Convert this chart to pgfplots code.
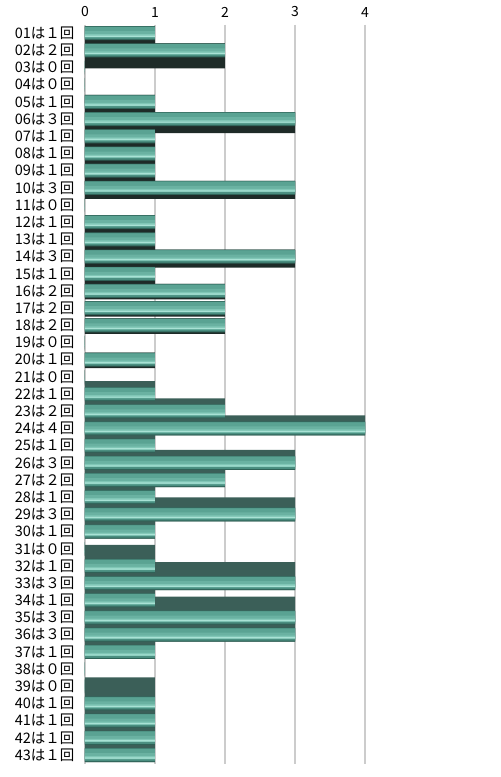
\documentclass[border=0pt]{standalone}
\usepackage{pgfplots}
\pgfplotsset{compat=1.18}
\usepackage{fontspec}
\setmainfont{Noto Sans CJK JP}
\definecolor{faceedge}{HTML}{2F6257}
\definecolor{faceinner}{HTML}{4A8E80}
\definecolor{facemid}{HTML}{5AA393}
\definecolor{facesoft}{HTML}{6AB2A2}
\definecolor{facelight}{HTML}{80C6B6}
\definecolor{faceshine}{HTML}{A9E2D5}
\definecolor{sidelow}{HTML}{1E2B28}
\definecolor{sidetop}{HTML}{3B5F58}
\definecolor{gridgray}{HTML}{CCCCCC}
\begin{document}
\begin{tikzpicture}
\pgfplotstableread{
n v
1 1
2 2
3 0
4 0
5 1
6 3
7 1
8 1
9 1
10 3
11 0
12 1
13 1
14 3
15 1
16 2
17 2
18 2
19 0
20 1
21 0
22 1
23 2
24 4
25 1
26 3
27 2
28 1
29 3
30 1
31 0
32 1
33 3
34 1
35 3
36 3
37 1
38 0
39 0
40 1
41 1
42 1
43 1
}\counts
\begin{axis}[
  at={(85pt,13.4pt)}, anchor=south west,
  scale only axis,
  width=413pt, height=739pt,
  xmin=0, xmax=5.9,
  ymin=0.5, ymax=43.5,
  y dir=reverse,
  axis line style={draw=none},
  xtick={0,1,2,3,4},
  xticklabel pos=right,
  xmajorgrids,
  grid style={gridgray, line width=1.2pt},
  major tick length=0pt,
  ytick={1,...,43},
  yticklabels={01は１回,02は２回,03は０回,04は０回,05は１回,06は３回,07は１回,08は１回,09は１回,10は３回,11は０回,12は１回,13は１回,14は３回,15は１回,16は２回,17は２回,18は２回,19は０回,20は１回,21は０回,22は１回,23は２回,24は４回,25は１回,26は３回,27は２回,28は１回,29は３回,30は１回,31は０回,32は１回,33は３回,34は１回,35は３回,36は３回,37は１回,38は０回,39は０回,40は１回,41は１回,42は１回,43は１回},
  yticklabel style={font=\fontsize{14.5}{16}\selectfont, text=black, xshift=-7pt},
  xticklabel style={font=\fontsize{14}{16}\selectfont, text=black, yshift=4pt},
  /pgf/number format/assume math mode=true,
  xbar,
  every axis plot/.append style={draw=none},
]
% depth faces: below the bars near the top, above them near the bottom
\addplot[fill=sidelow, bar width=25pt, bar shift=-5.5pt, restrict y to domain=1:4] table[x=v, y=n] {\counts};
\addplot[fill=sidelow, bar width=21pt, bar shift=-3.5pt, restrict y to domain=5:9] table[x=v, y=n] {\counts};
\addplot[fill=sidelow, bar width=18pt, bar shift=-2pt, restrict y to domain=10:15] table[x=v, y=n] {\counts};
\addplot[fill=sidelow, bar width=15.5pt, bar shift=-0.75pt, restrict y to domain=16:21] table[x=v, y=n] {\counts};
\addplot[fill=sidetop, bar width=20pt, bar shift=3pt, restrict y to domain=22:26] table[x=v, y=n] {\counts};
\addplot[fill=sidetop, bar width=24pt, bar shift=5pt, restrict y to domain=27:31] table[x=v, y=n] {\counts};
\addplot[fill=sidetop, bar width=28pt, bar shift=7pt, restrict y to domain=32:36] table[x=v, y=n] {\counts};
\addplot[fill=sidetop, bar width=33pt, bar shift=9.5pt, restrict y to domain=37:43] table[x=v, y=n] {\counts};
% front faces, banded to imitate the cylinder shading
\addplot[fill=faceedge, bar width=14pt, bar shift=0pt] table[x=v, y=n] {\counts};
\addplot[fill=faceinner, bar width=12.6pt, bar shift=0.3pt] table[x=v, y=n] {\counts};
\addplot[fill=facemid, bar width=10.5pt, bar shift=0.9pt] table[x=v, y=n] {\counts};
\addplot[fill=facesoft, bar width=6pt, bar shift=-1pt] table[x=v, y=n] {\counts};
\addplot[fill=facelight, bar width=3pt, bar shift=-2.5pt] table[x=v, y=n] {\counts};
\addplot[fill=faceshine, bar width=1.2pt, bar shift=-3pt] table[x=v, y=n] {\counts};
\end{axis}
\pgfresetboundingbox
\path (0,0) rectangle (501pt,777pt);
\end{tikzpicture}
\end{document}
